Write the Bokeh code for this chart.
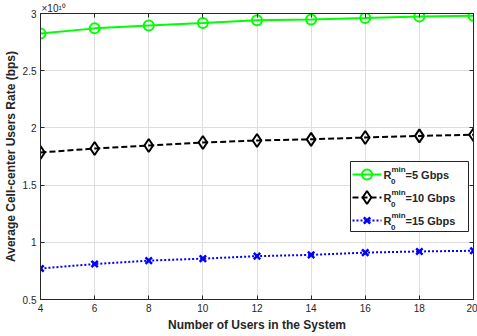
from bokeh.plotting import figure
from bokeh.models import Range1d, FixedTicker, LinearAxis, CustomJSTickFormatter, Title
from bokeh.core.properties import value
from bokeh.embed import file_html
from bokeh.resources import INLINE

# ---- data (units of 1e10 bps) ----
users = [4, 6, 8, 10, 12, 14, 16, 18, 20]
rate_5gbps = [2.825, 2.870, 2.895, 2.917, 2.940, 2.948, 2.960, 2.974, 2.980]
rate_10gbps = [1.785, 1.820, 1.846, 1.872, 1.890, 1.900, 1.916, 1.930, 1.940]
rate_15gbps = [0.771, 0.810, 0.840, 0.857, 0.879, 0.890, 0.910, 0.920, 0.926]
x_ticks = [4, 6, 8, 10, 12, 14, 16, 18, 20]
y_ticks = [0.5, 1.0, 1.5, 2.0, 2.5, 3.0]
y_tick_labels = ["0.5", "1", "1.5", "2", "2.5", "3"]
legend_values = ["=5 Gbps", "=10 Gbps", "=15 Gbps"]

FONT = "Liberation Sans"
AX = "#262626"

W, H = 477, 336
BL, BR, BT, BB = 40, 4, 13, 37
p = figure(width=W, height=H, output_backend="svg", toolbar_location=None,
           x_range=Range1d(4, 20), y_range=Range1d(0.5, 3),
           min_border_left=BL, min_border_right=BR, min_border_top=BT, min_border_bottom=BB,
           background_fill_color="white", border_fill_color="white")
p.outline_line_color = AX
p.outline_line_width = 1

fw, fh = W - BL - BR, H - BT - BB
def X(px):
    return 4 + (px - BL) / fw * 16
def Y(py):
    return 3 - (py - BT) / fh * 2.5

for ax in (p.xaxis[0], p.yaxis[0]):
    ax.major_tick_in = 4
    ax.major_tick_out = 0
    ax.minor_tick_line_color = None
    ax.axis_line_color = AX
    ax.major_tick_line_color = AX
    ax.major_label_text_font = FONT
    ax.major_label_text_font_size = "10px"
    ax.major_label_text_color = AX
    ax.axis_label_text_font = FONT
    ax.axis_label_text_font_size = "12px"
    ax.axis_label_text_font_style = "bold"
    ax.axis_label_text_color = AX

p.xaxis.ticker = FixedTicker(ticks=x_ticks)
p.yaxis.ticker = FixedTicker(ticks=y_ticks)
p.yaxis.major_label_overrides = {t: s for t, s in zip(y_ticks, y_tick_labels)}
p.xaxis.axis_label = "Number of Users in the System"
p.yaxis.axis_label = "Average Cell-center Users Rate (bps)"
p.xaxis.major_label_standoff = 4
p.xaxis.axis_label_standoff = 3
p.yaxis.major_label_standoff = 4
p.yaxis.axis_label_standoff = 2

for loc, tick in (("right", y_ticks), ("above", x_ticks)):
    a = LinearAxis(ticker=FixedTicker(ticks=tick), major_tick_in=4, major_tick_out=0,
                   minor_tick_line_color=None, axis_line_color=AX, major_tick_line_color=AX,
                   formatter=CustomJSTickFormatter(code="return ''"),
                   major_label_standoff=0)
    p.add_layout(a, loc)

# exponent of the y axis, shown above the top-left corner
p.add_layout(Title(text="\u00d710\u00b9\u2070", align="left", offset=1, standoff=0,
                   text_font=FONT, text_font_size="10px", text_font_style="normal",
                   text_color=AX), "above")

p.xgrid.grid_line_color = "#dedede"
p.ygrid.grid_line_color = "#dedede"
p.xgrid.ticker = FixedTicker(ticks=x_ticks)
p.ygrid.ticker = FixedTicker(ticks=y_ticks)

# ---- series ----
p.line(users, rate_5gbps, line_color="#00ff00", line_width=2)
p.scatter(users, rate_5gbps, marker="circle", size=10, line_color="#00ff00",
          line_width=2, fill_color=None)
p.line(users, rate_10gbps, line_color="black", line_width=2, line_dash="6 3")
p.scatter(users, rate_10gbps, marker="diamond", size=13, line_color="black",
          line_width=2, fill_color=None)
p.line(users, rate_15gbps, line_color="#0000ff", line_width=2, line_dash="2 2")
p.scatter(users, rate_15gbps, marker="x", size=9, line_color="#0000ff",
          line_width=2.5)

# ---- custom legend ----
p.quad(left=[X(350)], right=[X(468)], top=[Y(161)], bottom=[Y(231)],
       fill_color="white", line_color=AX, line_width=1)

rows = [174, 197, 220]
styles = [
    dict(color="#00ff00", dash="solid", marker="circle", size=10, lw=2),
    dict(color="black", dash="6 3", marker="diamond", size=13, lw=2),
    dict(color="#0000ff", dash="2 2", marker="x", size=9, lw=2.5),
]
for ry, st, lab in zip(rows, styles, legend_values):
    p.line([X(352), X(381)], [Y(ry), Y(ry)], line_color=st["color"], line_width=2,
           line_dash=st["dash"])
    p.scatter([X(366.5)], [Y(ry)], marker=st["marker"], size=st["size"],
              line_color=st["color"], line_width=st["lw"], fill_color=None)
    p.text(x=[X(383)], y=[Y(ry)], text=["R"], text_font=value(FONT), text_font_style="bold",
           text_font_size="11px", text_color=AX, text_baseline="middle", text_align="left")
    p.text(x=[X(391)], y=[Y(ry - 5)], text=["min"], text_font=value(FONT), text_font_style="bold",
           text_font_size="8px", text_color=AX, text_baseline="middle", text_align="left")
    p.text(x=[X(390.5)], y=[Y(ry + 7)], text=["0"], text_font=value(FONT), text_font_style="bold",
           text_font_size="8px", text_color=AX, text_baseline="middle", text_align="left")
    p.text(x=[X(405)], y=[Y(ry)], text=[lab], text_font=value(FONT), text_font_style="bold",
           text_font_size="11px", text_color=AX, text_baseline="middle", text_align="left")

open("out.html", "w").write(file_html(p, INLINE))
